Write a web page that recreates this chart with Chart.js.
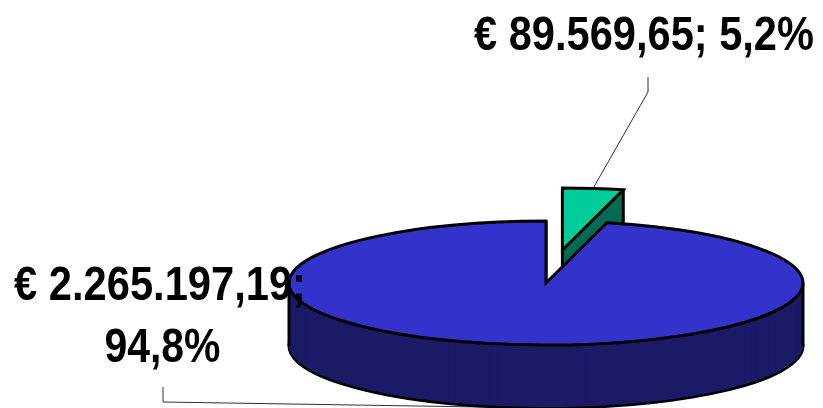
<!DOCTYPE html>
<html>
<head>
<meta charset="utf-8">
<script src="https://cdn.jsdelivr.net/npm/chart.js@4.4.1/dist/chart.umd.min.js"></script>
<style>
html, body { margin: 0; padding: 0; background: #fff; }
#chart { display: block; }
</style>
</head>
<body>
<canvas id="chart" width="823" height="408"></canvas>
<script>
// dati
const categories = ['Quota minore', 'Quota maggiore'];
const values = [89569.65, 2265197.19];
const percentLabels = ['5,2%', '94,8%'];

const topColors = ['#00CC99', '#3333CC'];
const sideColors = ['#006B50', '#1B1B66'];

function euro(v) {
    const parts = v.toFixed(2).split('.');
    const int = parts[0].replace(/\B(?=(\d{3})+(?!\d))/g, '.');
    return '€ ' + int + ',' + parts[1];
}

// centro della fetta (con esplosione) in coordinate schermo
function centerOf(arc, i, o) {
    const mid = (arc.startAngle + arc.endAngle) / 2;
    const e = o.explode[i] || 0;
    return { x: arc.x + Math.cos(mid) * e, y: arc.y + Math.sin(mid) * e * o.tilt };
}

function pointOf(arc, i, o, a) {
    const c = centerOf(arc, i, o);
    return { x: c.x + Math.cos(a) * arc.outerRadius, y: c.y + Math.sin(a) * arc.outerRadius * o.tilt };
}

function drawFace(ctx, arc, i, o, dy, style) {
    const mid = (arc.startAngle + arc.endAngle) / 2;
    const e = o.explode[i] || 0;
    ctx.save();
    ctx.translate(0, dy);
    ctx.translate(arc.x, arc.y);
    ctx.scale(1, o.tilt);
    ctx.translate(-arc.x, -arc.y);
    ctx.translate(Math.cos(mid) * e, Math.sin(mid) * e);
    const el = Object.create(arc);
    el.options = Object.assign({}, arc.options, style);
    el.draw(ctx);
    ctx.restore();
}

const pie3d = {
    id: 'pie3d',
    beforeDatasetsDraw(chart, args, o) {
        const ctx = chart.ctx;
        const arcs = chart.getDatasetMeta(0).data;
        const base = ctx.getTransform();

        // linee guida delle etichette (sotto la torta)
        ctx.save();
        ctx.strokeStyle = '#333';
        ctx.lineWidth = 1;
        o.labels.forEach((L, i) => {
            const arc = arcs[i];
            const p = pointOf(arc, i, o, (arc.startAngle + arc.endAngle) / 2);
            ctx.beginPath();
            ctx.moveTo(L.from[0][0], L.from[0][1]);
            ctx.lineTo(L.from[1][0], L.from[1][1]);
            ctx.lineTo(p.x, p.y + (L.toSide ? o.depth : 0));
            ctx.stroke();
        });
        ctx.restore();

        // bordo sempre spesso uguale, anche con la scala verticale
        const stroke = ctx.stroke;
        ctx.stroke = function () {
            this.save();
            this.setTransform(base);
            stroke.apply(this, arguments);
            this.restore();
        };

        // fianchi
        for (let d = o.depth; d >= 1; d--) {
            arcs.forEach((arc, i) => {
                drawFace(ctx, arc, i, o, d, {
                    backgroundColor: o.sideColors[i],
                    borderWidth: d === o.depth ? o.borderWidth : 0,
                    borderColor: o.borderColor
                });
            });
        }

        // spigoli verticali
        ctx.save();
        ctx.strokeStyle = o.borderColor;
        ctx.lineWidth = o.borderWidth;
        arcs.forEach((arc, i) => {
            const pts = [centerOf(arc, i, o), pointOf(arc, i, o, arc.startAngle), pointOf(arc, i, o, arc.endAngle)];
            [0, Math.PI, 2 * Math.PI].forEach(a => {
                if (a > arc.startAngle && a < arc.endAngle) pts.push(pointOf(arc, i, o, a));
            });
            pts.forEach(p => {
                ctx.beginPath();
                ctx.moveTo(p.x, p.y);
                ctx.lineTo(p.x, p.y + o.depth);
                ctx.stroke();
            });
        });
        ctx.restore();

        // facce superiori
        arcs.forEach((arc, i) => {
            drawFace(ctx, arc, i, o, 0, { borderWidth: o.borderWidth, borderColor: o.borderColor });
        });

        delete ctx.stroke;
        return false;
    },
    afterDraw(chart, args, o) {
        const ctx = chart.ctx;
        ctx.save();
        ctx.fillStyle = '#000';
        ctx.font = 'bold 48px "Liberation Sans Narrow", "Arial Narrow", sans-serif';
        ctx.textAlign = 'center';
        ctx.textBaseline = 'alphabetic';
        o.labels.forEach((L, i) => {
            const text = euro(values[i]) + ';';
            const lines = L.split ? [text, percentLabels[i]] : [text + ' ' + percentLabels[i]];
            lines.forEach((t, k) => {
                ctx.fillText(t, L.x[k], L.y + k * L.lineHeight, L.maxWidth[k]);
            });
        });
        ctx.restore();
    }
};

new Chart(document.getElementById('chart'), {
    type: 'pie',
    data: {
        labels: categories,
        datasets: [{
            data: values,
            backgroundColor: topColors,
            borderColor: '#000',
            borderWidth: 3,
            borderJoinStyle: 'miter',
            radius: 257
        }]
    },
    options: {
        responsive: false,
        animation: false,
        events: [],
        layout: {
            padding: { left: 269, top: 158, right: 0, bottom: 0 }
        },
        plugins: {
            legend: { display: false },
            tooltip: { enabled: false },
            pie3d: {
                tilt: 62 / 257,
                depth: 63,
                explode: [138, 0],
                sideColors: sideColors,
                borderColor: '#000',
                borderWidth: 3,
                labels: [
                    { x: [644], y: 50, lineHeight: 0, split: false, maxWidth: [340], from: [[648, 77], [648, 92]], toSide: false },
                    { x: [160, 162.5], y: 300, lineHeight: 62, split: true, maxWidth: [292, 116], from: [[163, 387], [163, 402]], toSide: true }
                ]
            }
        }
    },
    plugins: [pie3d]
});
</script>
</body>
</html>
